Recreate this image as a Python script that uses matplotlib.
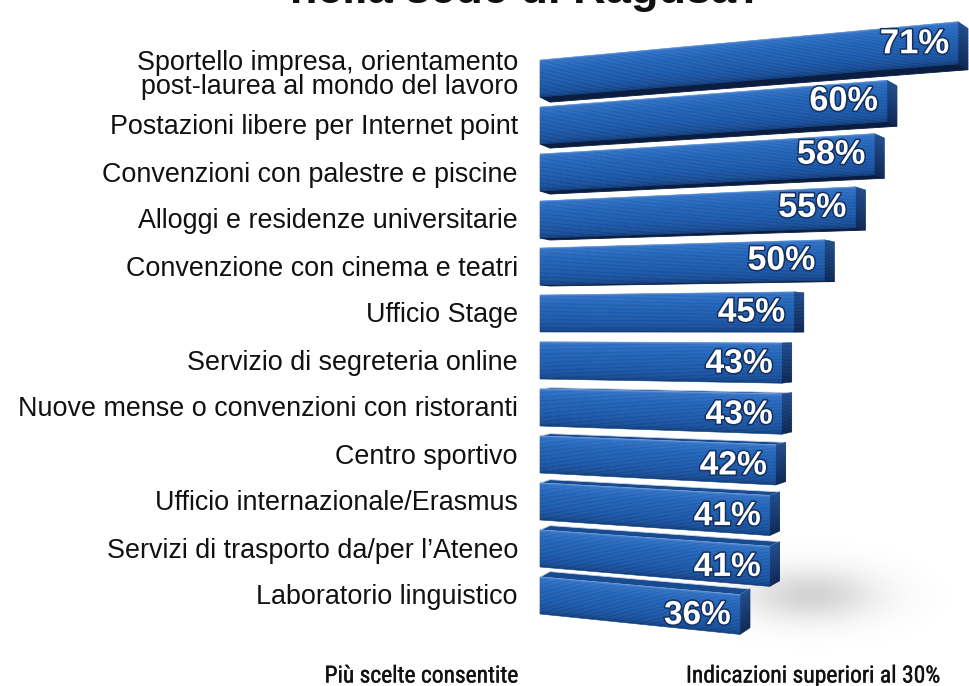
import numpy as np
import matplotlib
matplotlib.use("Agg")
import matplotlib.pyplot as plt
from matplotlib.collections import PolyCollection
from matplotlib.patches import Polygon
from matplotlib.colors import to_rgb
import matplotlib.patheffects as pe
from matplotlib import font_manager

# ---------------- data ----------------
categories = [
    "Sportello impresa, orientamento\npost-laurea al mondo del lavoro",
    "Postazioni libere per Internet point",
    "Convenzioni con palestre e piscine",
    "Alloggi e residenze universitarie",
    "Convenzione con cinema e teatri",
    "Ufficio Stage",
    "Servizio di segreteria online",
    "Nuove mense o convenzioni con ristoranti",
    "Centro sportivo",
    "Ufficio internazionale/Erasmus",
    "Servizi di trasporto da/per l’Ateneo",
    "Laboratorio linguistico",
]
values = [71, 60, 58, 55, 50, 45, 43, 43, 42, 41, 41, 36]
value_labels = [f"{v}%" for v in values]
title_text = "nella sede di Ragusa?"
footer_left = "Più scelte consentite"
footer_right = "Indicazioni superiori al 30%"

# ---------------- figure ----------------
W, H = 969, 686
fig = plt.figure(figsize=(W / 100, H / 100), dpi=100)
fig.patch.set_facecolor("white")
ax = fig.add_axes([0, 0, 1, 1])
ax.set_xlim(0, W)
ax.set_ylim(H, 0)
ax.axis("off")

# pseudo-3D perspective scale (value -> screen)
X0 = 540.0        # bar base
A = 5.214         # px per percent
KX = 0.00182      # perspective growth along value
YH = 330.0        # horizon
KS = 0.002        # vertical perspective growth
ROW0 = 60.0
ROWSTEP = 47.0
BH = 37.0         # bar thickness at base
DDX = 10.0        # depth offset (x)
DF = 0.022        # depth convergence toward horizon


def proj(v, yw, d=0.0):
    s = 1 + KS * v
    x = X0 + A * v * (1 + KX * v) + d * DDX
    y = YH + (yw - YH) * s * (1 - d * DF)
    return (x, y)


def interp_color(stops, t):
    ts = [s[0] for s in stops]
    cs = np.array([to_rgb(s[1]) for s in stops])
    return tuple(np.interp(t, ts, cs[:, k]) for k in range(3))


front_stops = [(0.0, "#5a92dc"), (0.05, "#2f6fc3"), (0.3, "#2062b6"),
               (0.65, "#1b58a9"), (0.9, "#164c97"), (1.0, "#0f3d7c")]
cap_stops = [(0.0, "#1d4a8c"), (1.0, "#0b2552")]

# soft shadow on the right of the lowest bars
gy, gx = np.mgrid[0:200, 0:300]
blob = np.exp(-(((gx - 120) / 65.0) ** 2 + ((gy - 100) / 26.0) ** 2))
rgba = np.zeros((200, 300, 4))
rgba[..., :3] = 0.5
rgba[..., 3] = 0.34 * blob
vx_last, vy_last = proj(values[-1], ROW0 + ROWSTEP * (len(values) - 1))
ax.imshow(rgba, extent=(vx_last - 50, vx_last + 250, vy_last + 100, vy_last - 100),
          zorder=0, interpolation="bilinear", aspect="auto")

NS = 28
for i, (cat, v, lab) in enumerate(zip(categories, values, value_labels)):
    top = ROW0 + ROWSTEP * i
    bot = top + BH
    z = 10 + i

    # top / bottom face
    if top > YH:
        face = [proj(0, top, 0), proj(v, top, 0), proj(v, top, 1), proj(0, top, 1)]
        ax.add_patch(Polygon(face, closed=True, fc="#184a90", ec="#c9d6ea", lw=0.6, zorder=z))
    if bot < YH:
        face = [proj(0, bot, 0), proj(v, bot, 0), proj(v, bot, 1), proj(0, bot, 1)]
        ax.add_patch(Polygon(face, closed=True, fc="#0b1d40", ec="#0b1d40", lw=0.6, zorder=z))

    # end cap (strips)
    polys, cols = [], []
    for k in range(NS):
        t0, t1 = k / NS, (k + 1) / NS
        y0, y1 = top + t0 * BH, top + t1 * BH
        polys.append([proj(v, y0, 0), proj(v, y0, 1), proj(v, y1, 1), proj(v, y1, 0)])
        cols.append(interp_color(cap_stops, (t0 + t1) / 2))
    ax.add_collection(PolyCollection(polys, facecolors=cols, edgecolors=cols, lw=0.4, zorder=z))

    # front face (strips)
    polys, cols = [], []
    for k in range(NS):
        t0, t1 = k / NS, (k + 1) / NS
        y0, y1 = top + t0 * BH, top + t1 * BH
        polys.append([proj(0, y0), proj(v, y0), proj(v, y1), proj(0, y1)])
        cols.append(interp_color(front_stops, (t0 + t1) / 2))
    ax.add_collection(PolyCollection(polys, facecolors=cols, edgecolors=cols, lw=0.4, zorder=z + 0.1))

    # value label
    xe, ye = proj(v, top + BH / 2)
    ax.text(xe - 9, ye + 1, lab, ha="right", va="center", color="white",
            fontsize=23 * (1 + 0.0012 * v), fontweight="bold", family="Liberation Sans",
            zorder=z + 0.5,
            path_effects=[pe.withStroke(linewidth=2.2, foreground="#13305f")])

    # category label
    xl, yl = proj(0, top + BH / 2)
    dy = -3 if "\n" in cat else 2
    ax.text(xl - 22, yl + dy, cat, ha="right", va="center", color="#111111",
            fontsize=19.4, family="Liberation Sans", linespacing=0.9, zorder=30)

# title (cut at the top edge, as in the reference)
ax.text(527, 3, title_text, ha="center", va="baseline", fontsize=32.5,
        fontweight="bold", family="Liberation Sans", color="#111111", zorder=30)

# footers (condensed font, fitted to reference width)
names = {f.name for f in font_manager.fontManager.ttflist}
cond = None
for n in ["Liberation Sans Narrow", "Roboto Condensed", "Open Sans Condensed"]:
    if n in names:
        cond = n
        break
stretch = "normal"
if cond is None:
    cond = "DejaVu Sans"
    stretch = "condensed"

renderer = fig.canvas.get_renderer()


def fitted(x, y, s, target_w, ha):
    t = ax.text(x, y, s, ha=ha, va="center", fontsize=12, family=cond,
                fontstretch=stretch, fontweight="normal", color="#111111", zorder=30,
                path_effects=[pe.withStroke(linewidth=0.25, foreground="#111111")])
    w = t.get_window_extent(renderer=renderer).width
    t.set_fontsize(12 * target_w / w)
    return t


fitted(518, 676, footer_left, 193, "right")
fitted(686, 676, footer_right, 254, "left")

fig.savefig("out.png", dpi=100, facecolor="white")
